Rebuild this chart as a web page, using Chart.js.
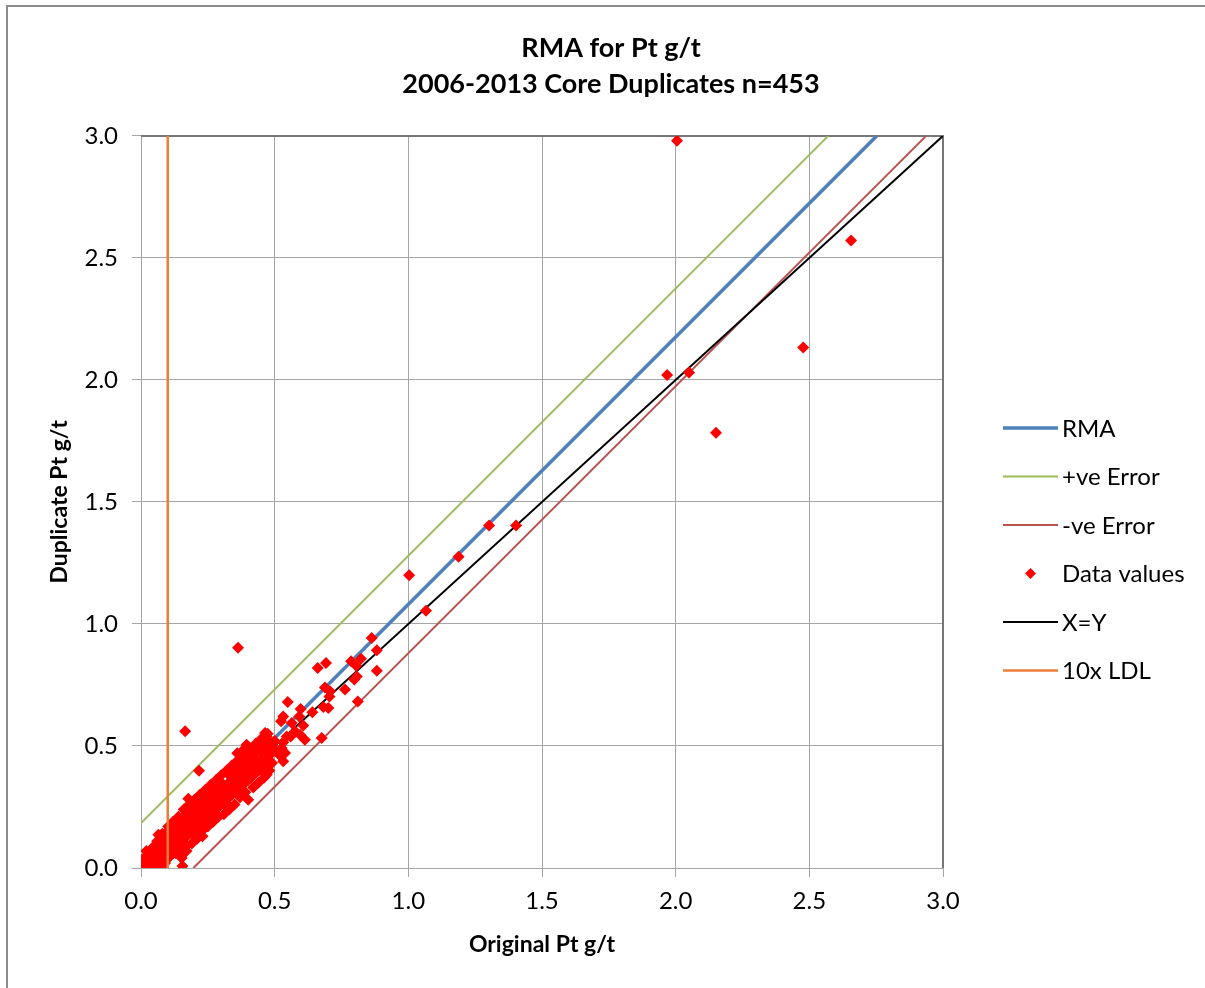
<!DOCTYPE html>
<html>
<head>
<meta charset="utf-8">
<script src="https://cdn.jsdelivr.net/npm/chart.js@4/dist/chart.umd.min.js"></script>
<style>
  html, body { margin: 0; padding: 0; background: #fff; }
  canvas { display: block; }
</style>
</head>
<body>
<canvas id="myChart" width="1205" height="988"></canvas>
<script>
// ---- data ----
var titleLines = ['RMA for Pt g/t', '2006-2013 Core Duplicates n=453'];
var xTitle = 'Original Pt g/t';
var yTitle = 'Duplicate Pt g/t';
var tickValues = [0, 0.5, 1.0, 1.5, 2.0, 2.5, 3.0];

// line end points (x, y)
var rmaX = [0.014, 2.752],  rmaY = [0, 3.0];
var posErrX = [0, 2.571],   posErrY = [0.184, 3.0];
var negErrX = [0.196, 2.937], negErrY = [0, 3.0];
var xyX = [0, 3.0],         xyY = [0, 3.0];
var ldlX = [0.1, 0.1],      ldlY = [0, 3.0];

// original vs duplicate Pt g/t
var origPt = [
  0.00,0.01,0.01,0.02,0.02,0.03,0.03,0.01,0.00,0.02,0.04,0.04,0.05,0.03,0.05,0.02,0.04,0.05,0.01,0.03,
  0.06,0.06,0.07,0.07,0.08,0.08,0.09,0.09,0.10,0.10,0.065,0.06,0.07,0.08,0.09,0.10,0.055,0.075,0.085,0.095,0.06,0.08,0.10,
  0.11,0.11,0.12,0.12,0.13,0.13,0.14,0.14,0.15,0.15,0.11,0.12,0.13,0.14,0.15,0.11,0.12,0.102,0.13,0.14,0.12,0.14,0.15,0.11,
  0.16,0.16,0.17,0.17,0.18,0.18,0.19,0.19,0.20,0.20,0.16,0.17,0.18,0.19,0.20,0.16,0.17,0.18,0.19,0.158,0.152,0.155,0.177,0.165,0.20,0.17,
  0.21,0.21,0.22,0.22,0.23,0.23,0.24,0.24,0.25,0.25,0.21,0.22,0.23,0.24,0.25,0.239,0.21,0.22,0.23,0.24,0.25,0.217,0.22,
  0.26,0.26,0.27,0.27,0.28,0.28,0.29,0.29,0.30,0.30,0.26,0.27,0.28,0.29,0.30,0.26,0.27,0.28,0.29,0.30,0.31,
  0.31,0.31,0.32,0.32,0.33,0.33,0.34,0.34,0.35,0.35,0.327,0.333,0.32,0.34,0.35,0.33,0.34,0.35,
  0.36,0.36,0.37,0.37,0.38,0.38,0.39,0.39,0.40,0.40,0.36,0.37,0.38,0.39,0.40,0.352,0.358,0.37,0.383,0.389,0.395,0.395,0.40,0.401,0.363,0.38,0.39,
  0.41,0.41,0.42,0.42,0.43,0.433,0.44,0.439,0.45,0.451,0.414,0.401,0.41,0.42,0.43,0.44,0.45,0.42,0.43,0.44,0.45,0.41,
  0.458,0.464,0.47,0.474,0.476,0.483,0.483,0.47,0.47,0.489,0.46,0.48,0.49,0.50,0.46,0.47,0.49,0.50,
  0.514,0.523,0.526,0.532,0.532,0.539,0.545,0.56,0.576,0.595,0.613,0.607,0.564,0.592,0.524,0.532,0.549,0.597,
  0.641,0.661,0.692,0.676,0.682,0.701,0.688,0.707,0.705,
  0.763,0.786,0.823,0.805,0.807,0.798,0.811,0.863,0.882,0.882,
  1.003,1.066,1.188,1.302,1.403,1.968,2.05,2.151,2.477,2.656,2.005,
  0.02,0.04,0.06,0.08,0.09,0.07,0.10,0.12,0.14,0.16,0.18,0.13,0.15,0.17,0.19,0.21,0.23,
  0.20,0.22,0.24,0.26,0.28,0.30,0.32,0.34,0.36,0.25,0.27,0.29,0.31,0.33,0.35,0.37,0.39,0.42,0.44,0.46,0.48,
  0.41,0.43,0.45,0.47,0.38,0.36,0.165
];
var dupPt = [
  0.00,0.01,0.02,0.01,0.03,0.02,0.04,0.00,0.02,0.00,0.03,0.05,0.04,0.06,0.06,0.05,0.01,0.02,0.04,0.00,
  0.05,0.08,0.06,0.09,0.07,0.10,0.08,0.11,0.09,0.12,0.136,0.03,0.04,0.05,0.06,0.07,0.07,0.11,0.13,0.14,0.10,0.03,0.04,
  0.10,0.13,0.11,0.14,0.12,0.15,0.13,0.16,0.14,0.17,0.08,0.09,0.09,0.10,0.11,0.16,0.17,0.17,0.18,0.19,0.06,0.07,0.08,0.05,
  0.15,0.18,0.16,0.19,0.17,0.20,0.18,0.21,0.19,0.22,0.12,0.13,0.14,0.15,0.16,0.21,0.22,0.23,0.24,0.068,0.041,0.008,0.284,0.10,0.13,0.09,
  0.20,0.23,0.21,0.24,0.22,0.25,0.23,0.26,0.24,0.27,0.17,0.18,0.19,0.20,0.21,0.164,0.26,0.27,0.28,0.29,0.30,0.399,0.15,
  0.25,0.28,0.26,0.29,0.27,0.30,0.28,0.31,0.29,0.32,0.22,0.23,0.24,0.25,0.26,0.31,0.32,0.33,0.34,0.35,0.33,
  0.30,0.27,0.31,0.34,0.32,0.35,0.33,0.36,0.34,0.37,0.246,0.252,0.28,0.30,0.31,0.38,0.39,0.40,
  0.35,0.38,0.36,0.39,0.37,0.40,0.38,0.41,0.39,0.42,0.32,0.33,0.34,0.35,0.36,0.416,0.41,0.403,0.423,0.41,0.498,0.505,0.44,0.28,0.903,0.45,0.47,
  0.40,0.43,0.41,0.416,0.42,0.437,0.43,0.485,0.44,0.403,0.471,0.444,0.37,0.38,0.39,0.40,0.41,0.46,0.48,0.50,0.47,0.49,
  0.471,0.553,0.526,0.55,0.485,0.464,0.437,0.416,0.382,0.512,0.44,0.50,0.48,0.49,0.50,0.45,0.43,0.52,
  0.471,0.457,0.492,0.515,0.437,0.471,0.539,0.539,0.56,0.546,0.526,0.584,0.594,0.621,0.601,0.621,0.68,0.652,
  0.638,0.82,0.84,0.533,0.66,0.656,0.74,0.724,0.703,
  0.731,0.847,0.857,0.829,0.785,0.772,0.682,0.943,0.892,0.808,
  1.2,1.054,1.275,1.403,1.403,2.02,2.03,1.784,2.133,2.571,2.98,
  0.07,0.08,0.11,0.14,0.02,0.01,0.15,0.19,0.21,0.24,0.26,0.06,0.05,0.07,0.10,0.12,0.13,
  0.28,0.30,0.32,0.34,0.36,0.38,0.40,0.42,0.44,0.17,0.19,0.21,0.22,0.24,0.26,0.29,0.31,0.33,0.35,0.37,0.40,
  0.48,0.51,0.53,0.54,0.48,0.47,0.56
];

function pairs(xs, ys) {
  var out = [];
  for (var i = 0; i < xs.length; i++) out.push({ x: xs[i], y: ys[i] });
  return out;
}

var FONT = 'Lato';
Chart.defaults.font.family = FONT;
Chart.defaults.color = '#000';

// white background + outer frame
var framePlugin = {
  id: 'frame',
  beforeDraw: function(chart) {
    var c = chart.ctx;
    c.save();
    c.fillStyle = '#fff';
    c.fillRect(0, 0, chart.width, chart.height);
    c.strokeStyle = '#8c8c8c';
    c.lineWidth = 2;
    c.beginPath();
    c.moveTo(7, chart.height);
    c.lineTo(7, 6);
    c.lineTo(chart.width, 6);
    c.stroke();
    c.restore();
  },
  beforeDatasetsDraw: function(chart) {
    var a = chart.chartArea, c = chart.ctx;
    c.save();
    c.strokeStyle = '#767676';
    c.lineWidth = 2;
    c.beginPath();
    c.moveTo(a.left, a.top);
    c.lineTo(a.right, a.top);
    c.lineTo(a.right, a.bottom);
    c.stroke();
    c.restore();
  }
};

// Excel-style legend on the right
var legendPlugin = {
  id: 'sideLegend',
  afterDraw: function(chart) {
    var c = chart.ctx;
    var x0 = 1003, y0 = 428, step = 48.5, len = 55;
    c.save();
    c.font = '24px ' + FONT;
    c.textBaseline = 'middle';
    c.fillStyle = '#000';
    chart.data.datasets.forEach(function(ds, i) {
      var y = y0 + i * step;
      if (ds.showLine) {
        c.strokeStyle = ds.borderColor;
        c.lineWidth = ds.borderWidth;
        c.beginPath();
        c.moveTo(x0, y);
        c.lineTo(x0 + len, y);
        c.stroke();
      } else {
        var cx = x0 + len / 2, r = 5.5;
        c.fillStyle = ds.backgroundColor;
        c.beginPath();
        c.moveTo(cx, y - r); c.lineTo(cx + r, y); c.lineTo(cx, y + r); c.lineTo(cx - r, y);
        c.closePath();
        c.fill();
        c.fillStyle = '#000';
      }
      c.fillText(ds.label, x0 + len + 4, y + 1);
    });
    c.restore();
  }
};

var gridColor = '#a6a6a6';

var ctx = document.getElementById('myChart').getContext('2d');
var chart = new Chart(ctx, {
  type: 'scatter',
  data: {
    datasets: [
      { label: 'RMA', data: pairs(rmaX, rmaY), showLine: true, borderColor: '#4f81bd', borderWidth: 3.5, pointRadius: 0, order: 5 },
      { label: '+ve Error', data: pairs(posErrX, posErrY), showLine: true, borderColor: '#9bbb59', borderWidth: 2, pointRadius: 0, order: 4 },
      { label: '-ve Error', data: pairs(negErrX, negErrY), showLine: true, borderColor: '#b85450', borderWidth: 2, pointRadius: 0, order: 3 },
      { label: 'Data values', data: pairs(origPt, dupPt), showLine: false, backgroundColor: '#ff0000', borderWidth: 0,
        pointStyle: 'rectRot', pointRadius: 6, pointHoverRadius: 6, order: 1 },
      { label: 'X=Y', data: pairs(xyX, xyY), showLine: true, borderColor: '#000000', borderWidth: 2, pointRadius: 0, order: 2 },
      { label: '10x LDL', data: pairs(ldlX, ldlY), showLine: true, borderColor: '#e97f36', borderWidth: 2.5, pointRadius: 0, order: 0 }
    ]
  },
  options: {
    responsive: false,
    animation: false,
    layout: { padding: { left: 44, right: 27, top: 10, bottom: 20 } },
    plugins: {
      legend: { display: false },
      tooltip: { enabled: false },
      title: {
        display: true,
        text: titleLines,
        font: { size: 27, weight: 'bold', lineHeight: 1.35 },
        color: '#000',
        padding: { top: 20, bottom: 33 }
      }
    },
    scales: {
      x: {
        type: 'linear',
        min: 0, max: 3,
        afterBuildTicks: function(s) { s.ticks = tickValues.map(function(v) { return { value: v }; }); },
        afterFit: function(s) { s.height = 100; },
        ticks: { font: { size: 24 }, padding: 10, color: '#000', callback: function(v) { return Number(v).toFixed(1); } },
        grid: { color: gridColor, lineWidth: 1, tickLength: 9 },
        border: { color: gridColor, width: 1 },
        title: { display: true, text: xTitle, font: { size: 23, weight: 'bold' }, color: '#000', padding: { top: 0, bottom: 10 } }
      },
      y: {
        type: 'linear',
        min: 0, max: 3,
        afterBuildTicks: function(s) { s.ticks = tickValues.map(function(v) { return { value: v }; }); },
        afterFit: function(s) { s.width = 97; },
        ticks: { font: { size: 24 }, padding: 14, color: '#000', callback: function(v) { return Number(v).toFixed(1); } },
        grid: { color: gridColor, lineWidth: 1, tickLength: 9 },
        border: { color: gridColor, width: 1 },
        title: { display: true, text: yTitle, font: { size: 23, weight: 'bold' }, color: '#000', padding: { top: 2, bottom: 0 } }
      },
      // empty axis on the right that only reserves room for the legend
      spacer: {
        type: 'linear',
        position: 'right',
        display: true,
        grid: { display: false },
        border: { display: false },
        ticks: { display: false },
        afterFit: function(s) { s.width = 235; }
      }
    }
  },
  plugins: [framePlugin, legendPlugin]
});
</script>
</body>
</html>
